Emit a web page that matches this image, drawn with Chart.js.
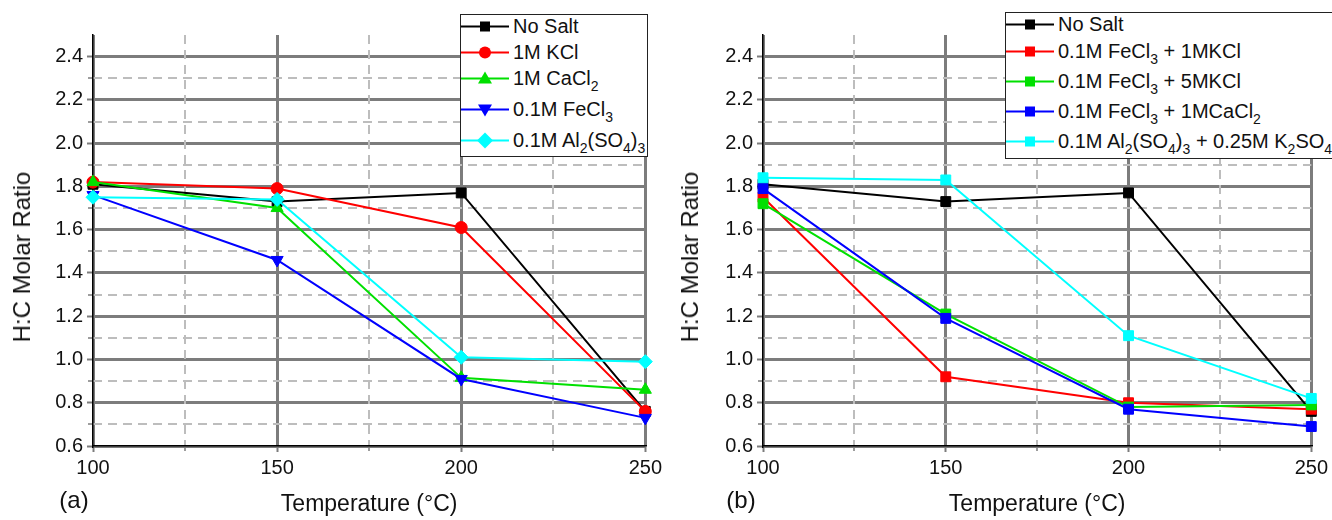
<!DOCTYPE html>
<html>
<head>
<meta charset="utf-8">
<script src="https://cdn.jsdelivr.net/npm/chart.js@4.4.0/dist/chart.umd.min.js"></script>
<style>
body { margin: 0; width: 1332px; height: 520px; overflow: hidden; background: #fff; position: relative; font-family: "Liberation Sans", Arial, sans-serif; color: #111; }
.panel { position: absolute; top: 0; width: 666px; height: 520px; }
.ytitle { position: absolute; font-size: 24px; white-space: nowrap; transform: translate(-50%, -50%) rotate(-90deg); }
.tag { position: absolute; font-size: 24px; transform: translate(-50%, -50%); }
.legend { position: absolute; border: 1.5px solid #222; background: #fff; z-index: 2; }
.legend .row { position: absolute; left: 0; display: flex; align-items: center; font-size: 20px; white-space: nowrap; transform: translateY(-50%); }
.legend .row span { margin-left: 4px; }
sub { font-size: 14px; vertical-align: -6px; line-height: 0; }
</style>
</head>
<body>
<div class="panel" style="left:0"><canvas id="chartA" width="666" height="520"></canvas></div>
<div class="panel" style="left:666px"><canvas id="chartB" width="666" height="520"></canvas></div>
<div class="ytitle" style="left:22px;top:257px">H:C Molar Ratio</div>
<div class="ytitle" style="left:690px;top:257px">H:C Molar Ratio</div>
<div class="tag" style="left:74px;top:500px">(a)</div>
<div class="tag" style="left:741px;top:500px">(b)</div>
<div class="legend" id="legendA" style="left:460px;top:14px;width:186px;height:141px"></div>
<div class="legend" id="legendB" style="left:1005px;top:12px;width:380px;height:145px"></div>

<script>
// temperatures (x) and axis ticks
var temps = [100, 150, 200, 250];
var xMajorTicks = [100, 150, 200, 250];
var xMinorTicks = [125, 175, 225];
var yMajorTicks = [0.6, 0.8, 1.0, 1.2, 1.4, 1.6, 1.8, 2.0, 2.2, 2.4];
var yMinorTicks = [0.7, 0.9, 1.1, 1.3, 1.5, 1.7, 1.9, 2.1, 2.3];

// panel (a)
var a_noSalt = [1.81, 1.73, 1.77, 0.76];
var a_kcl = [1.82, 1.79, 1.61, 0.76];
var a_cacl2 = [1.82, 1.70, 0.915, 0.86];
var a_fecl3 = [1.76, 1.46, 0.91, 0.73];
var a_al2so43 = [1.75, 1.74, 1.01, 0.99];
var a_labels = ['No Salt', '1M KCl', '1M CaCl<sub>2</sub>', '0.1M FeCl<sub>3</sub>', '0.1M Al<sub>2</sub>(SO<sub>4</sub>)<sub>3</sub>'];

// panel (b)
var b_noSalt = [1.81, 1.73, 1.77, 0.76];
var b_fecl3_1mkcl = [1.75, 0.92, 0.80, 0.77];
var b_fecl3_5mkcl = [1.72, 1.21, 0.78, 0.79];
var b_fecl3_1mcacl2 = [1.79, 1.19, 0.77, 0.69];
var b_al_k2so4 = [1.84, 1.83, 1.11, 0.82];
var b_labels = ['No Salt', '0.1M FeCl<sub>3</sub> + 1MKCl', '0.1M FeCl<sub>3</sub> + 5MKCl', '0.1M FeCl<sub>3</sub> + 1MCaCl<sub>2</sub>', '0.1M Al<sub>2</sub>(SO<sub>4</sub>)<sub>3</sub> + 0.25M K<sub>2</sub>SO<sub>4</sub>'];

var colors = ['#000000', '#ff0000', '#00e000', '#0000ff', '#00ffff'];

Chart.defaults.font.family = '"Liberation Sans", Arial, sans-serif';
Chart.defaults.color = '#111';

function to_points(vals) {
	return temps.map(function (t, i) { return { x: t, y: vals[i] }; });
}

function strip_tags(s) {
	return s.replace(/<[^>]+>/g, '');
}

// marker: [chart.js style, rotation, radius]
var markerA = [['rect', 0, 7], ['circle', 0, 6], ['triangle', 0, 7], ['triangle', 180, 7], ['rectRot', 0, 7]];
var markerB = [['rect', 0, 7], ['rect', 0, 7], ['rect', 0, 7], ['rect', 0, 7], ['rect', 0, 7]];

function create_chart(canvas_id, series, labels, markers, y_width, pad_right) {
	var datasets = series.map(function (vals, i) {
		return {
			label: strip_tags(labels[i]),
			data: to_points(vals),
			borderColor: colors[i],
			backgroundColor: colors[i],
			borderWidth: 2,
			pointStyle: markers[i][0],
			pointRotation: markers[i][1],
			pointRadius: markers[i][2],
			pointBorderWidth: 1,
			tension: 0,
			clip: false,
			order: series.length - i
		};
	});

	return new Chart(document.getElementById(canvas_id), {
		type: 'line',
		data: { datasets: datasets },
		options: {
			responsive: false,
			animation: false,
			layout: { padding: { top: 35, right: pad_right, left: 0, bottom: 0 } },
			plugins: { legend: { display: false }, tooltip: { enabled: false } },
			scales: {
				x: {
					type: 'linear', min: 100, max: 250,
					afterBuildTicks: function (s) { s.ticks = xMajorTicks.map(function (v) { return { value: v }; }); },
					afterFit: function (s) { s.height = 74; },
					ticks: { font: { size: 20 }, padding: 4, color: '#111' },
					grid: { color: '#7c7c7c', lineWidth: 3, tickLength: 6, tickWidth: 2 },
					border: { color: '#000', width: 1.5 },
					title: { display: true, text: 'Temperature (°C)', font: { size: 23 }, padding: { top: 0, bottom: 2 }, color: '#111' }
				},
				y: {
					type: 'linear', min: 0.6, max: 2.5,
					afterBuildTicks: function (s) { s.ticks = yMajorTicks.map(function (v) { return { value: v }; }); },
					afterFit: function (s) { s.width = y_width; },
					ticks: { font: { size: 20 }, padding: 4, color: '#111', callback: function (v) { return v.toFixed(1); } },
					grid: { color: '#7c7c7c', lineWidth: 3, tickLength: 6, tickWidth: 2 },
					border: { color: '#000', width: 1.5 }
				},
				xm: {
					type: 'linear', position: 'bottom', weight: -1, min: 100, max: 250,
					afterBuildTicks: function (s) { s.ticks = xMinorTicks.map(function (v) { return { value: v }; }); },
					afterFit: function (s) { s.height = 0; },
					ticks: { display: false },
					grid: { color: '#bdbdbd', lineWidth: 2, tickLength: 5, tickColor: '#7c7c7c', tickWidth: 1.5 },
					border: { display: false, dash: [9, 6] }
				},
				ym: {
					type: 'linear', position: 'left', weight: -1, min: 0.6, max: 2.5,
					afterBuildTicks: function (s) { s.ticks = yMinorTicks.map(function (v) { return { value: v }; }); },
					afterFit: function (s) { s.width = 0; },
					ticks: { display: false },
					grid: { color: '#bdbdbd', lineWidth: 2, tickLength: 5, tickColor: '#7c7c7c', tickWidth: 1.5 },
					border: { display: false, dash: [9, 6] }
				}
			}
		}
	});
}

function marker_svg(style, rot, color) {
	var s = '';
	if (style == 'rect') s = '<rect x="19" y="5" width="10" height="10" fill="' + color + '"/>';
	else if (style == 'circle') s = '<circle cx="24" cy="10" r="6" fill="' + color + '"/>';
	else if (style == 'triangle' && rot == 180) s = '<polygon points="24,17 31,5 17,5" fill="' + color + '"/>';
	else if (style == 'triangle') s = '<polygon points="24,3 31,15 17,15" fill="' + color + '"/>';
	else if (style == 'rectRot') s = '<polygon points="24,2 32,10 24,18 16,10" fill="' + color + '"/>';
	return '<svg width="48" height="20"><line x1="0" y1="10" x2="48" y2="10" stroke="' + color + '" stroke-width="2"/>' + s + '</svg>';
}

function build_legend(div_id, labels, markers, rows_y) {
	var div = document.getElementById(div_id);
	var html = '';
	for (var i = 0; i < labels.length; i++) {
		html += '<div class="row" style="top:' + rows_y[i] + 'px">' + marker_svg(markers[i][0], markers[i][1], colors[i]) + '<span>' + labels[i] + '</span></div>';
	}
	div.innerHTML = html;
}

create_chart('chartA', [a_noSalt, a_kcl, a_cacl2, a_fecl3, a_al2so43], a_labels, markerA, 93, 18);
create_chart('chartB', [b_noSalt, b_fecl3_1mkcl, b_fecl3_5mkcl, b_fecl3_1mcacl2, b_al_k2so4], b_labels, markerB, 97, 16);

build_legend('legendA', a_labels, markerA, [11, 37, 63, 94, 125]);
build_legend('legendB', b_labels, markerB, [11, 38, 68, 98, 128]);
</script>
</body>
</html>
